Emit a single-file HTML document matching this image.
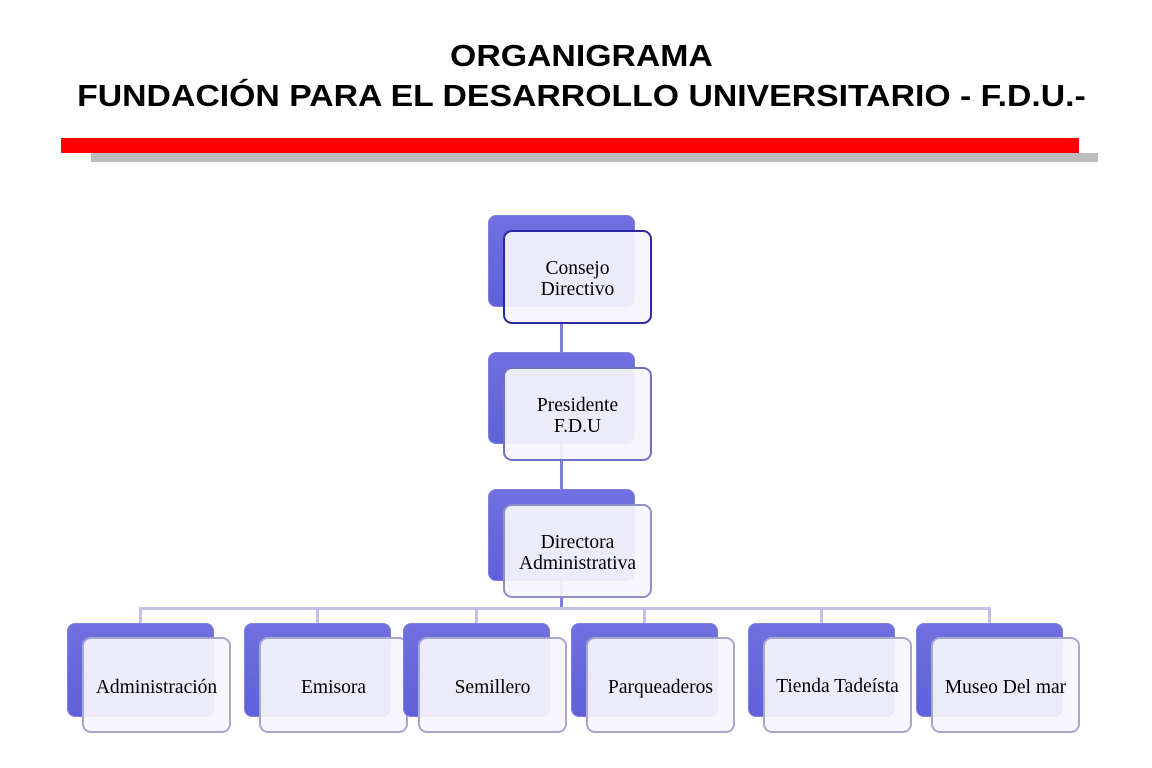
<!DOCTYPE html>
<html><head><meta charset="utf-8"><style>
body{margin:0;width:1152px;height:768px;background:#fff;position:relative;overflow:hidden;font-family:"Liberation Serif",serif}
.t{position:absolute;left:0;width:1163px;text-align:center;font:bold 31px "Liberation Sans",sans-serif;color:#000;white-space:nowrap;transform:scaleX(1.09);transform-origin:582px 0}
.b{position:absolute;border-radius:8px;background:linear-gradient(#7070e0,#6060d8);border:1px solid #8080e0}
.f{position:absolute;border-radius:9px;background:rgba(245,245,252,0.93);border:2px solid #a8a8cc;display:flex;align-items:center;justify-content:center;text-align:center;font-size:19.5px;line-height:21px;color:#000;box-sizing:border-box;padding-top:4px}
.f.d{border-color:#2a2aa0}
.l{position:absolute;background:#c0c0e8}
</style></head><body>
<div class="t" style="top:38px">ORGANIGRAMA</div>
<div class="t" style="top:78px">FUNDACIÓN PARA EL DESARROLLO UNIVERSITARIO - F.D.U.-</div>
<div style="position:absolute;left:91px;top:153px;width:1007px;height:9px;background:#bdbdbd"></div>
<div style="position:absolute;left:61px;top:138px;width:1018px;height:15px;background:#ff0000"></div>

<div class="l" style="left:560px;top:320px;width:3px;height:290px;background:#8080d8"></div>
<div class="l" style="left:139px;top:607px;width:852px;height:3px"></div>
<div class="l" style="left:139px;top:607px;width:3px;height:18px"></div>
<div class="l" style="left:316px;top:607px;width:3px;height:18px"></div>
<div class="l" style="left:475px;top:607px;width:3px;height:18px"></div>
<div class="l" style="left:643px;top:607px;width:3px;height:18px"></div>
<div class="l" style="left:820px;top:607px;width:3px;height:18px"></div>
<div class="l" style="left:988px;top:607px;width:3px;height:18px"></div>

<div class="b" style="left:488px;top:215px;width:145px;height:90px"></div>
<div class="f d" style="left:503px;top:230px;width:149px;height:94px">Consejo<br>Directivo</div>
<div class="b" style="left:488px;top:352px;width:145px;height:90px"></div>
<div class="f" style="left:503px;top:367px;width:149px;height:94px;border-color:#7070c8">Presidente<br>F.D.U</div>
<div class="b" style="left:488px;top:489px;width:145px;height:90px"></div>
<div class="f" style="left:503px;top:504px;width:149px;height:94px;border-color:#9090c8">Directora<br>Administrativa</div>

<div class="b" style="left:67px;top:623px;width:145px;height:92px"></div>
<div class="f" style="left:82px;top:637px;width:149px;height:96px">Administración</div>
<div class="b" style="left:244px;top:623px;width:145px;height:92px"></div>
<div class="f" style="left:259px;top:637px;width:149px;height:96px">Emisora</div>
<div class="b" style="left:403px;top:623px;width:145px;height:92px"></div>
<div class="f" style="left:418px;top:637px;width:149px;height:96px">Semillero</div>
<div class="b" style="left:571px;top:623px;width:145px;height:92px"></div>
<div class="f" style="left:586px;top:637px;width:149px;height:96px">Parqueaderos</div>
<div class="b" style="left:748px;top:623px;width:145px;height:92px"></div>
<div class="f" style="left:763px;top:637px;width:149px;height:96px;padding-top:2px">Tienda Tadeísta</div>
<div class="b" style="left:916px;top:623px;width:145px;height:92px"></div>
<div class="f" style="left:931px;top:637px;width:149px;height:96px">Museo Del mar</div>
</body></html>
